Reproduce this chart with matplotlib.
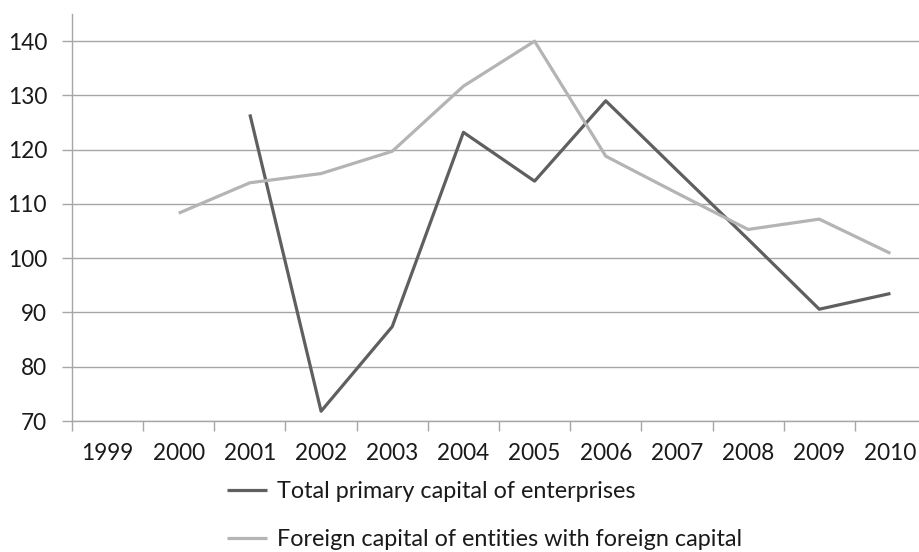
import matplotlib
matplotlib.use("Agg")
import matplotlib.pyplot as plt
import numpy as np

# Years on the category axis
years = ["1999", "2000", "2001", "2002", "2003", "2004",
         "2005", "2006", "2007", "2008", "2009", "2010"]

# Index values (None = no data)
total_primary = [None, None, 126.5, 71.8, 87.4, 123.2,
                 114.2, 129.0, 116.2, 103.5, 90.6, 93.5]
foreign_capital = [None, 108.3, 113.9, 115.6, 119.7, 131.7,
                   140.0, 118.8, 112.0, 105.3, 107.2, 100.9]

y_ticks = [70, 80, 90, 100, 110, 120, 130, 140]

label_total = "Total primary capital of enterprises"
label_foreign = "Foreign capital of entities with foreign capital"

plt.rcParams['font.family'] = ['Lato', 'DejaVu Sans']

fig = plt.figure(figsize=(9.2, 5.52), dpi=100)
# plot area runs off the right edge of the picture, like the original crop
ax = fig.add_axes([72 / 920, 1 - 421 / 552, 854 / 920, 407 / 552])

x = np.arange(len(years))
tp = np.array([np.nan if v is None else v for v in total_primary])
fc = np.array([np.nan if v is None else v for v in foreign_capital])

ax.plot(x, tp, color="#5f5f5f", lw=2.3, label=label_total, solid_capstyle="butt")
ax.plot(x, fc, color="#b4b4b4", lw=2.3, label=label_foreign, solid_capstyle="butt")

ax.set_xlim(-0.5, len(years) - 0.5)
ax.set_ylim(70, 145)

# grid lines
ax.set_yticks(y_ticks)
ax.yaxis.grid(True, color="#a6a6a6", lw=1.0)
ax.set_axisbelow(True)

# ticks on category boundaries, labels in the middle
ax.set_xticks(np.arange(len(years) + 1) - 0.5)
ax.set_xticklabels([])
ax.set_xticks(x, minor=True)
ax.set_xticklabels(years, minor=True)
ax.tick_params(axis="x", which="major", length=7, width=1, color="#a6a6a6", direction="out")
ax.tick_params(axis="x", which="minor", length=0, pad=16, labelsize=16.3, labelcolor="#1a1a1a")
ax.tick_params(axis="y", length=7, width=1, color="#a6a6a6", pad=11,
               labelsize=16.3, labelcolor="#1a1a1a")

for side in ["top", "right"]:
    ax.spines[side].set_visible(False)
for side in ["left", "bottom"]:
    ax.spines[side].set_color("#a6a6a6")
    ax.spines[side].set_linewidth(1.0)

fig.legend(loc="upper left", bbox_to_anchor=(227 / 920, 1 - 481 / 552),
           frameon=False, fontsize=16.8, handlelength=1.72, handletextpad=0.42,
           labelspacing=1.15, borderpad=0, borderaxespad=0, labelcolor="#1a1a1a")

fig.savefig("out.png", dpi=100)
